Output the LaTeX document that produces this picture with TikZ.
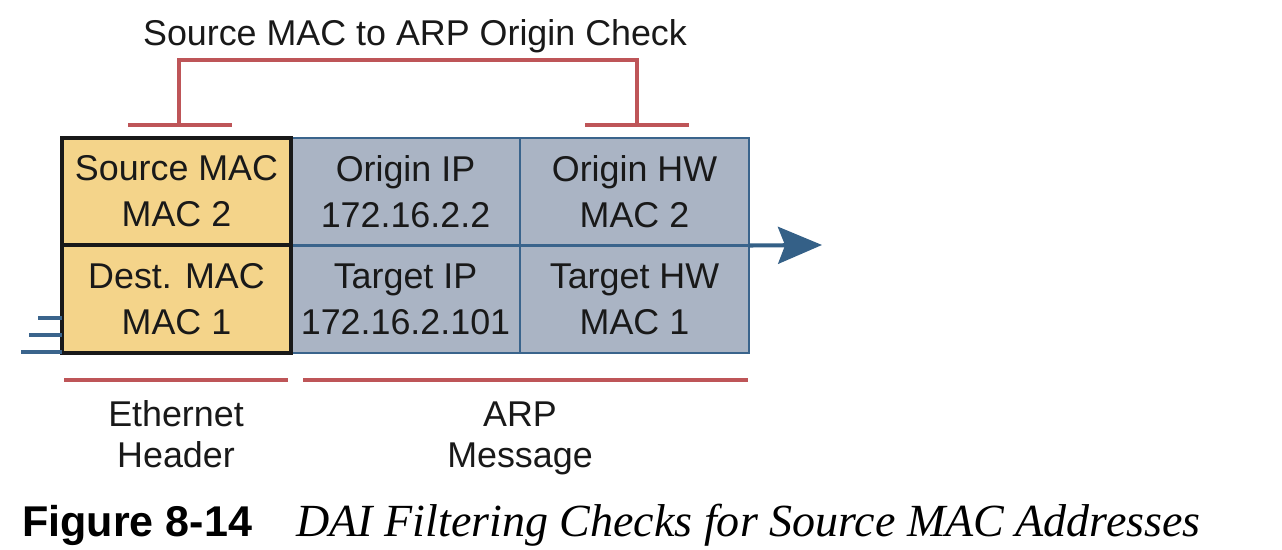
\documentclass[tikz,border=0pt]{standalone}
\usepackage{fontspec}
\setmainfont{Liberation Sans}
\newfontfamily\capserif{Liberation Serif}
\usetikzlibrary{arrows.meta}
\definecolor{ylw}{RGB}{244,212,138}
\definecolor{gbl}{RGB}{170,180,196}
\definecolor{bbd}{RGB}{58,100,140}
\definecolor{rdl}{RGB}{190,85,88}
\definecolor{arb}{RGB}{52,96,135}
\tikzset{
  cellbase/.style={rectangle, inner sep=0pt, outer sep=0pt, minimum width=4.58cm, minimum height=2.15cm, align=center, font=\fontsize{20.4}{26}\selectfont, text=black!90},
  arpcell/.style={cellbase, fill=gbl, draw=bbd, line width=1.3pt},
  ethcell/.style={cellbase, fill=ylw},
  redline/.style={draw=rdl, line width=2.3pt},
  blueline/.style={draw=bbd, line width=2.2pt},
  lbl/.style={align=center, font=\fontsize{20.4}{23.5}\selectfont, text=black!90, inner sep=0pt},
}
\begin{document}
\begin{tikzpicture}[x=0.02cm,y=-0.02cm]
\fill[white] (0,0) rectangle (1282,550);
\useasboundingbox (0,0) rectangle (1282,550);
% ARP cells
\node[arpcell] (oip) at (405.5,191.5) {Origin IP\\172.16.2.2};
\node[arpcell] (tip) at (405.5,299.25) {Target IP\\172.16.2.101};
\node[arpcell] (ohw) at (634.5,191.5) {Origin HW\\MAC 2};
\node[arpcell] (thw) at (634.5,299.25) {Target HW\\MAC 1};
% Ethernet cells
\node[ethcell] (src) at (176.5,191.5) {Source MAC\\MAC 2};
\node[ethcell] (dst) at (176.5,299.25) {Dest. MAC\\MAC 1};
\draw[line width=2.4pt, black!90] (src.north west) rectangle (dst.south east);
\draw[line width=2.4pt, black!90] (src.south west) -- (src.south east);
% arrow
\coordinate (atip) at (822,245);
\draw[draw=arb, line width=2.3pt, -{Stealth[length=25pt, width=21pt, inset=4pt]}] (thw.north east) -- (atip);
% motion lines
\coordinate (m1) at (38,318);
\coordinate (m2) at (29,335);
\coordinate (m3) at (21,352);
\draw[blueline] (m1) -- (dst.west |- m1);
\draw[blueline] (m2) -- (dst.west |- m2);
\draw[blueline] (m3) -- (dst.west |- m3);
% top bracket
\coordinate (bl) at (179,125);
\coordinate (br) at (637,125);
\draw[redline] (bl) -- (179,60) -- (637,60) -- (br);
\draw[redline] (128,125) -- (232,125);
\draw[redline] (585,125) -- (689,125);
\node[lbl] (title) at (415,36) {Source MAC to ARP Origin Check};
% bottom brackets
\draw[redline] (64,380) -- (288,380);
\draw[redline] (303,380) -- (748,380);
\node[lbl] (eth) at (176,439) {Ethernet\strut\\Header\strut};
\node[lbl] (arp) at (520,439) {ARP\strut\\Message\strut};
% caption
\node[anchor=base west, inner sep=0pt, font=\fontsize{24.5}{28}\selectfont\bfseries] (fig) at (22,537) {Figure 8-14};
\node[anchor=base west, inner sep=0pt, font=\fontsize{26.2}{30}\selectfont\capserif\itshape] (cap) at (296,537) {DAI Filtering Checks for Source MAC Addresses};
\end{tikzpicture}
\end{document}
